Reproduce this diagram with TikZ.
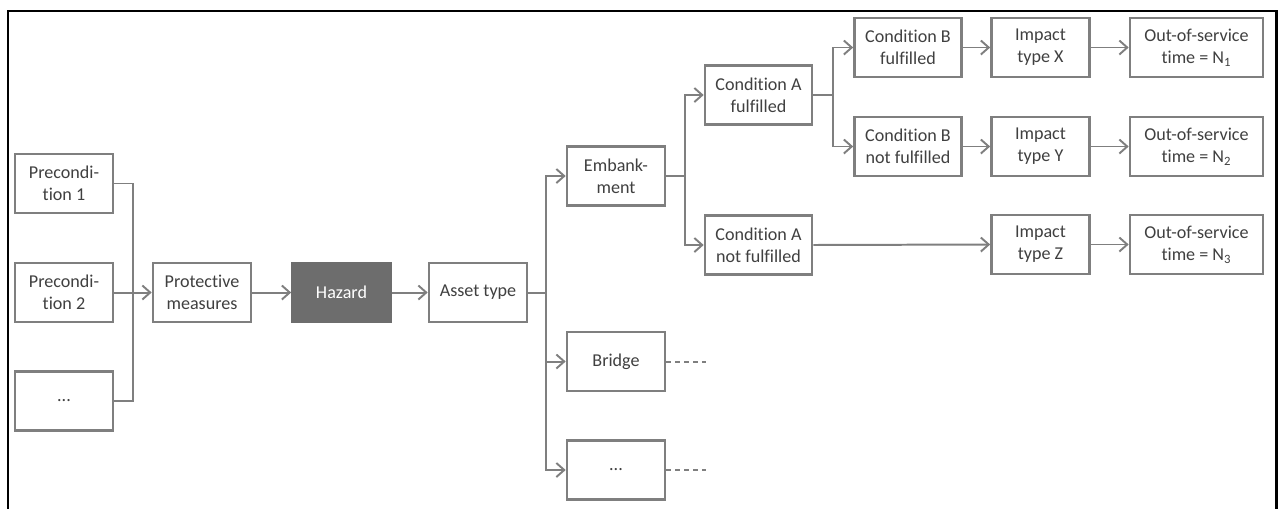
\documentclass[tikz,border=0pt]{standalone}
\usepackage{fontspec}
\setmainfont{Carlito}[Ligatures={NoCommon}]
\usetikzlibrary{arrows.meta}
\definecolor{boxgray}{HTML}{7F7F7F}
\definecolor{txtgray}{HTML}{404040}
\definecolor{hazfill}{HTML}{6D6D6D}
\begin{document}
\begin{tikzpicture}[x=0.02cm,y=-0.02cm,
  box/.style={draw=boxgray,line width=1.5pt,fill=white,text=txtgray,align=center,
    inner sep=0pt,font=\fontsize{10.3}{12.6}\selectfont,minimum height=59*0.02cm},
  w100/.style={minimum width=98*0.02cm},
  w110/.style={minimum width=107*0.02cm},
  w135/.style={minimum width=133*0.02cm},
  conn/.style={draw=boxgray,line width=1.13pt},
  arr/.style={conn,-{Straight Barb[length=4.5pt,width=8pt,line width=1.1pt]}},
  dashln/.style={conn,dash pattern=on 2.8pt off 2.3pt},
  frame/.style={draw=black,line width=1.7pt}
]
\useasboundingbox (0,0) rectangle (1279,508);
\draw[frame] (8,512) -- (8,11) -- (1276,11) -- (1276,512);

\node[box,w100] (pre1) at (64,183.5) {Precondi-\\tion 1};
\node[box,w100] (pre2) at (64,292.5) {Precondi-\\tion 2};
\node[box,w100] (pre3) at (64,401) {...};
\node[box,w100] (prot) at (202,292.5) {Protective\\measures};
\node[box,w100,fill=hazfill,draw=hazfill,text=white] (haz) at (341.5,292.5) {Hazard};
\node[box,w100] (asset) at (478,292.5) {Asset type};
\node[box,w100] (emb) at (616,176) {Embank-\\ment};
\node[box,w100] (bridge) at (616,361.5) {Bridge};
\node[box,w100] (dots) at (616,470) {...};
\node[box,w110] (cAf) at (758.5,95) {Condition A\\fulfilled};
\node[box,w110] (cAn) at (758.5,245) {Condition A\\not fulfilled};
\node[box,w110] (cBf) at (908,47.5) {Condition B\\fulfilled};
\node[box,w110] (cBn) at (908,146.5) {Condition B\\not fulfilled};
\node[box,w100] (iX) at (1040.5,47.5) {Impact\\type X};
\node[box,w100] (iY) at (1040.5,146.5) {Impact\\type Y};
\node[box,w100] (iZ) at (1040.5,244.5) {Impact\\type Z};
\node[box,w135] (oX) at (1196.5,47.5) {Out-of-service\\time = N\textsubscript{1}};
\node[box,w135] (oY) at (1196.5,146.5) {Out-of-service\\time = N\textsubscript{2}};
\node[box,w135] (oZ) at (1196.5,244.5) {Out-of-service\\time = N\textsubscript{3}};

\coordinate (j1) at (133,292.5);
\coordinate (j2) at (546,292.5);
\coordinate (j3) at (685,176);
\coordinate (j4) at (833,95);
\coordinate (d1) at (706,361.5);
\coordinate (d2) at (706,470);

\draw[conn] (pre1.east) -| (j1) |- (pre3.east);
\draw[arr] (pre2.east) -- (prot.west);
\draw[arr] (prot) -- (haz);
\draw[arr] (haz) -- (asset);
\draw[conn] (asset.east) -- (j2);
\draw[arr] (j2) |- (emb.west);
\draw[arr] (j2) |- (bridge.west);
\draw[arr] (j2) |- (dots.west);
\draw[conn] (emb.east) -- (j3);
\draw[arr] (j3) |- (cAf.west);
\draw[arr] (j3) |- (cAn.west);
\draw[conn] (cAf.east) -- (j4);
\draw[arr] (j4) |- (cBf.west);
\draw[arr] (j4) |- (cBn.west);
\draw[arr] (cBf) -- (iX);
\draw[arr] (cBn) -- (iY);
\draw[arr] (cAn.east) -- (iZ.west);
\draw[arr] (iX) -- (oX);
\draw[arr] (iY) -- (oY);
\draw[arr] (iZ) -- (oZ);
\draw[dashln] (bridge.east) -- (d1);
\draw[dashln] (dots.east) -- (d2);
\end{tikzpicture}
\end{document}
